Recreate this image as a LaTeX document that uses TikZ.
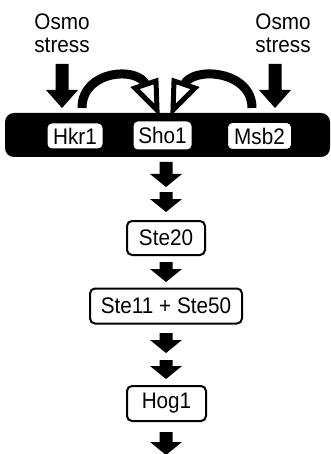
\documentclass[tikz,border=0pt]{standalone}
\usepackage{fontspec}
\setmainfont{Liberation Sans}[FakeStretch=0.92]
\newcommand\blockarrow[4]{% x, top, tip, head length
  \fill (#1-6.5,#2) -- (#1+6.5,#2) -- (#1+6.5,#3-#4) -- (#1+16,#3-#4) -- (#1,#3)
    -- (#1-16,#3-#4) -- (#1-6.5,#3-#4) -- cycle;}
\begin{document}
\begin{tikzpicture}[x=1pt,y=-1pt,
  lbl/.style={font=\fontsize{22.5}{26}\selectfont, inner sep=0pt, anchor=base},
  protbox/.style={draw=black, line width=2pt, fill=white, rounded corners=5pt,
    font=\fontsize{22.5}{26}\selectfont, inner sep=0pt},
  arcline/.style={line width=9pt},
  openhead/.style={draw=black, fill=white, line width=5pt, line join=miter}]
\useasboundingbox (0,0) rectangle (331,454);
% labels
\node[lbl] (osmoL1) at (62,30) {Osmo};
\node[lbl] (osmoL2) at (62,53) {stress};
\node[lbl] (osmoR1) at (283,30) {Osmo};
\node[lbl] (osmoR2) at (283,53) {stress};
% stress arrows
\blockarrow{62}{64}{108}{18}
\blockarrow{275}{64}{108}{18}
% membrane
\node[fill=black, rounded corners=9pt, minimum width=325pt, minimum height=44pt,
  inner sep=0pt] (membrane) at (167.5,135) {};
\node[protbox, minimum width=57pt, minimum height=27pt] (hkr1) at (75,136) {Hkr1};
\node[protbox, minimum width=60pt, minimum height=30pt] (sho1) at (162.5,135.5) {Sho1};
\node[protbox, minimum width=65pt, minimum height=28pt] (msb2) at (259.5,136) {Msb2};
% curved arrows to Sho1
\coordinate (lstart) at (82,108);
\coordinate (lend) at (146,85);
\coordinate (rstart) at (252,108);
\coordinate (rend) at (184,85);
\draw[arcline] (lstart) .. controls (82,70) and (138,66) .. (lend);
\draw[arcline] (rstart) .. controls (252,70) and (192,66) .. (rend);
\draw[openhead] (135,88) -- (156,81) -- (157,110) -- cycle;
\draw[openhead] (195,88) -- (174,81) -- (173,110) -- cycle;
% pathway
\node[protbox, minimum width=78pt, minimum height=34pt] (ste20) at (166,238) {Ste20};
\node[protbox, minimum width=152pt, minimum height=35pt] (ste11) at (166,306) {Ste11 + Ste50};
\node[protbox, minimum width=79pt, minimum height=35pt] (hog1) at (166.5,403.5) {Hog1};
\blockarrow{166}{162}{187}{13}
\blockarrow{166}{192}{212}{13}
\blockarrow{166}{262}{282}{13}
\blockarrow{166}{333}{353}{13}
\blockarrow{166}{360}{379}{13}
\blockarrow{166}{432}{455}{13}
\end{tikzpicture}
\end{document}
